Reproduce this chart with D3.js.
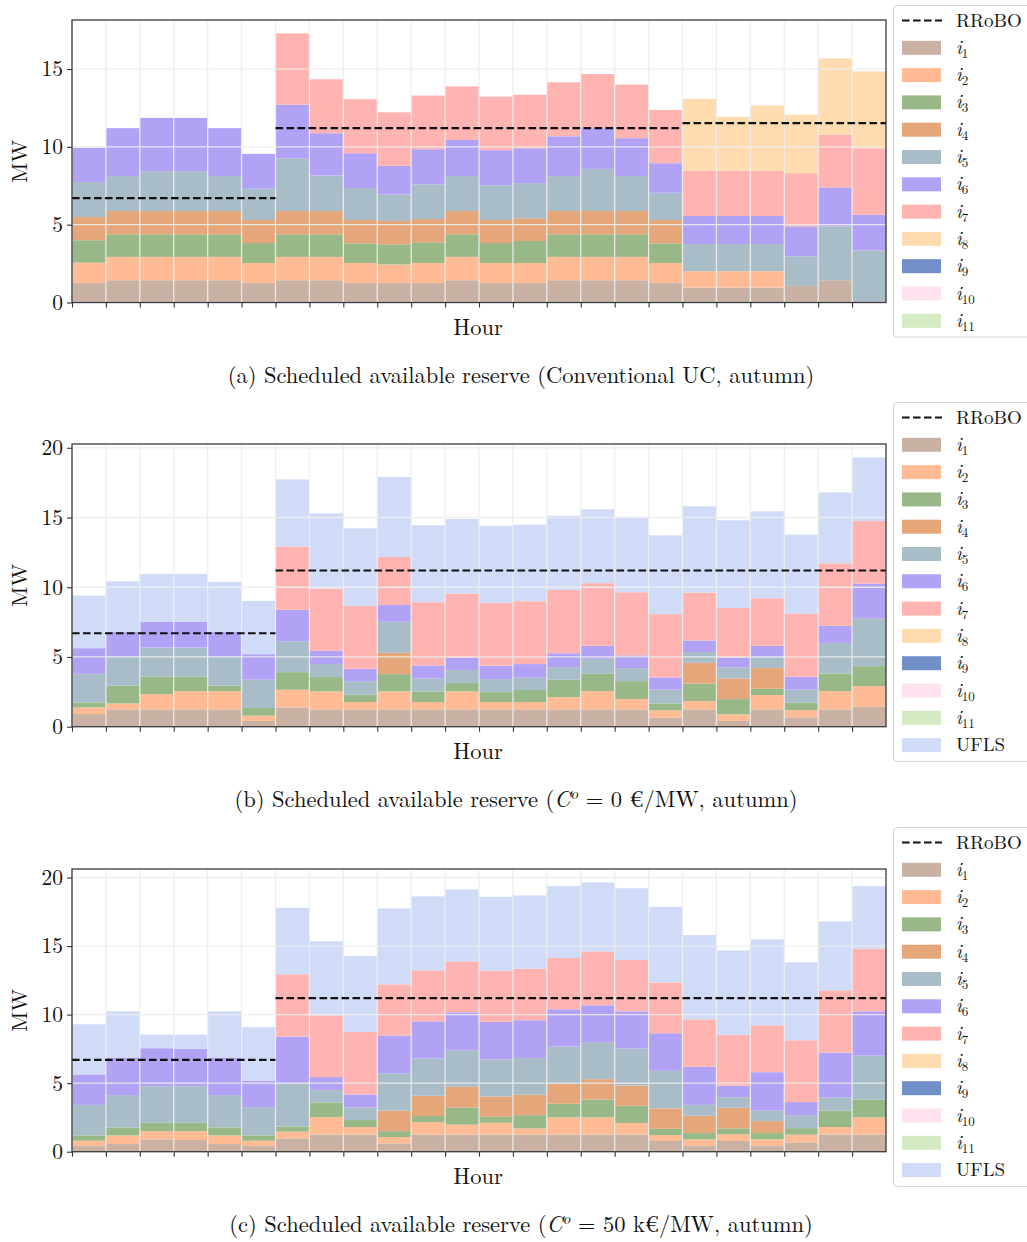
<!DOCTYPE html>
<html>
<head>
<meta charset="utf-8">
<script src="https://cdn.jsdelivr.net/npm/d3@7"></script>
<style>
  html, body { margin: 0; padding: 0; background: #fff; }
  svg { display: block; }
  text { font-family: "Latin Modern Roman", "CMU Serif", "Liberation Serif", serif; fill: #111; }
</style>
</head>
<body>
<script>
// Hours of the day (one bar per hour)
const hours = [0,1,2,3,4,5,6,7,8,9,10,11,12,13,14,15,16,17,18,19,20,21,22,23];

// Panel (a): conventional UC, autumn — reserve per unit (MW)
const convI1 = [1.26,1.43,1.43,1.43,1.43,1.26,1.43,1.43,1.26,1.26,1.26,1.43,1.26,1.26,1.43,1.43,1.43,1.26,0.96,0.96,0.96,1.07,1.43,0];
const convI2 = [1.30,1.50,1.50,1.50,1.50,1.28,1.50,1.50,1.28,1.18,1.28,1.50,1.28,1.28,1.50,1.50,1.50,1.28,1.05,1.05,1.05,0,0,0];
const convI3 = [1.44,1.45,1.45,1.45,1.45,1.28,1.45,1.45,1.26,1.30,1.33,1.45,1.28,1.41,1.45,1.45,1.45,1.26,0,0,0,0,0,0];
const convI4 = [1.49,1.50,1.50,1.50,1.50,1.48,1.50,1.50,1.50,1.50,1.49,1.50,1.48,1.46,1.50,1.50,1.50,1.50,0,0,0,0,0,0];
const convI5 = [2.25,2.24,2.56,2.56,2.24,2.01,3.39,2.28,2.05,1.70,2.23,2.24,2.24,2.26,2.24,2.71,2.24,1.75,1.75,1.75,1.75,1.90,3.46,3.35];
const convI6 = [2.20,3.08,3.42,3.42,3.08,2.24,3.44,2.72,2.24,1.84,2.26,2.33,2.25,2.24,2.56,2.61,2.44,1.90,1.80,1.80,1.80,1.92,2.50,2.29];
const convI7 = [0,0,0,0,0,0,4.58,3.46,3.47,3.44,3.44,3.44,3.44,3.44,3.47,3.48,3.44,3.42,2.92,2.92,2.92,3.42,3.40,4.27];
const convI8 = [0,0,0,0,0,0,0,0,0,0,0,0,0,0,0,0,0,0,4.60,3.46,4.17,3.76,4.89,4.94];
const convRRoBO = [6.7,6.7,6.7,6.7,6.7,6.7,11.2,11.2,11.2,11.2,11.2,11.2,11.2,11.2,11.2,11.2,11.2,11.2,11.52,11.52,11.52,11.52,11.52,11.52];

// Panel (b): C^o = 0 €/MW
const zeroI1 = [0.91,1.24,1.24,1.24,1.24,0.41,1.38,1.24,1.24,1.24,1.24,1.24,1.24,1.24,1.24,1.24,1.24,0.64,1.24,0.41,1.24,0.67,1.24,1.43];
const zeroI2 = [0.47,0.43,1.10,1.31,1.31,0.38,1.27,1.29,0.53,1.29,0.53,1.29,0.53,0.53,0.88,1.31,0.74,0.53,0.60,0.47,1.03,0.52,1.31,1.48];
const zeroI3 = [0.36,1.27,1.26,1.05,0.39,0.55,1.26,1.03,0.52,1.24,0.76,0.60,0.71,0.86,1.25,1.24,1.29,0.50,1.26,1.10,0.45,0.55,1.27,1.43];
const zeroI4 = [0,0,0,0,0,0,0,0,0,1.53,0,0,0,0,0,0,0,0,1.48,1.48,1.48,0,0,0];
const zeroI5 = [2.05,2.07,2.08,2.08,2.07,2.03,2.22,0.93,0.98,2.22,0.93,0.93,0.93,0.88,0.90,1.08,0.93,0.98,0.77,0.79,0.76,0.91,2.19,3.44];
const zeroI6 = [1.84,1.79,1.84,1.84,1.79,1.83,2.25,0.95,0.88,1.21,0.93,0.88,0.96,0.98,1.00,0.93,0.91,0.88,0.83,0.71,0.84,0.93,1.22,2.48];
const zeroI7 = [0,0,0,0,0,0,4.53,4.46,4.51,3.44,4.54,4.61,4.51,4.51,4.54,4.49,4.53,4.54,3.44,3.56,3.41,4.53,4.49,4.49];
const zeroUFLS = [3.77,3.63,3.43,3.43,3.58,3.82,4.82,5.40,5.56,5.73,5.51,5.34,5.51,5.49,5.32,5.29,5.40,5.65,6.18,6.28,6.23,5.66,5.08,4.56];
const zeroRRoBO = [6.7,6.7,6.7,6.7,6.7,6.7,11.2,11.2,11.2,11.2,11.2,11.2,11.2,11.2,11.2,11.2,11.2,11.2,11.2,11.2,11.2,11.2,11.2,11.2];

// Panel (c): C^o = 50 k€/MW
const highI1 = [0.41,0.56,0.90,0.85,0.56,0.41,0.97,1.26,1.26,0.61,1.26,1.26,1.26,1.26,1.26,1.26,1.26,0.78,0.41,0.78,0.41,0.68,1.26,1.26];
const highI2 = [0.39,0.63,0.60,0.65,0.63,0.39,0.49,1.26,0.54,0.46,0.90,0.71,0.85,0.44,1.24,1.24,0.83,0.43,0.49,0.48,0.49,0.56,0.54,1.24];
const highI3 = [0.39,0.58,0.61,0.61,0.58,0.39,0.38,1.07,0.51,0.43,0.44,1.26,0.44,0.97,1.00,1.31,1.26,0.46,0.46,0.44,0.46,0.48,1.19,1.31];
const highI4 = [0,0,0,0,0,0,0,0,0,1.49,1.48,1.50,1.48,1.48,1.45,1.48,1.48,1.49,1.26,1.50,0.87,0,0,0];
const highI5 = [2.23,2.36,2.67,2.67,2.36,2.06,3.14,0.92,0.92,2.74,2.72,2.67,2.69,2.69,2.72,2.70,2.69,2.74,0.80,0.78,0.76,0.95,0.97,3.20];
const highI6 = [2.21,2.74,2.77,2.72,2.74,1.94,3.42,0.93,0.94,2.74,2.71,2.77,2.75,2.75,2.72,2.69,2.72,2.74,2.77,0.83,2.81,0.95,3.27,3.23];
const highI7 = [0,0,0,0,0,0,4.54,4.51,4.57,3.74,3.72,3.71,3.73,3.76,3.74,3.93,3.74,3.71,3.47,3.71,3.42,4.51,4.54,4.57];
const highUFLS = [3.67,3.37,0.99,1.04,3.37,3.89,4.85,5.39,5.53,5.53,5.39,5.25,5.39,5.34,5.24,5.03,5.24,5.51,6.14,6.16,6.27,5.68,5.03,4.56];
const highRRoBO = [6.7,6.7,6.7,6.7,6.7,6.7,11.2,11.2,11.2,11.2,11.2,11.2,11.2,11.2,11.2,11.2,11.2,11.2,11.2,11.2,11.2,11.2,11.2,11.2];

// Tick values of the MW axes
const ticksA = [0, 5, 10, 15];
const ticksBC = [0, 5, 10, 15, 20];

// Legend entries
const unitKeys = ["i1","i2","i3","i4","i5","i6","i7","i8","i9","i10","i11"];
const colors = {
  i1: "#c9b2a4", i2: "#ffbb94", i3: "#98b987", i4: "#e5a679", i5: "#a9bdc9", i6: "#b1a2f6",
  i7: "#ffb4b1", i8: "#ffdcb0", i9: "#7190c9", i10: "#ffe1f0", i11: "#d4eac2", UFLS: "#cfdbf7"
};

const W = 1027, H = 1242;
const svg = d3.select("body").append("svg").attr("width", W).attr("height", H);

const x = d3.scaleLinear().domain([0, 24]).range([72, 886]);

function seriesTable(named) {
  const keys = Object.keys(named);
  return { keys, rows: hours.map((h, i) => { const r = { hour: h }; keys.forEach(k => r[k] = named[k][i]); return r; }) };
}

function drawPanel(cfg) {
  const g = svg.append("g");
  const y = d3.scaleLinear().domain([0, cfg.ymax]).range([cfg.bottom, cfg.top]);
  const { keys, rows } = seriesTable(cfg.series);
  const stacked = d3.stack().keys(keys)(rows);

  // stacked hourly bars
  stacked.forEach(layer => {
    g.append("g").selectAll("rect").data(layer).join("rect")
      .attr("x", d => x(d.data.hour))
      .attr("width", d => x(d.data.hour + 1) - x(d.data.hour))
      .attr("y", d => y(d[1]))
      .attr("height", d => Math.max(0, y(d[0]) - y(d[1])))
      .attr("fill", colors[layer.key]);
  });

  // light grid drawn over the bars
  const grid = g.append("g").attr("stroke", "#eeeeee").attr("stroke-width", 1.3).attr("opacity", 0.9);
  hours.forEach(h => grid.append("line").attr("x1", x(h)).attr("x2", x(h)).attr("y1", cfg.top).attr("y2", cfg.bottom));
  cfg.ticks.forEach(t => grid.append("line").attr("x1", 72).attr("x2", 886).attr("y1", y(t)).attr("y2", y(t)));

  // RRoBO requirement: one dashed segment per constant block
  let start = 0;
  for (let i = 1; i <= hours.length; i++) {
    if (i === hours.length || cfg.rrobo[i] !== cfg.rrobo[start]) {
      g.append("line")
        .attr("x1", x(hours[start])).attr("x2", x(hours[i - 1] + 1))
        .attr("y1", y(cfg.rrobo[start])).attr("y2", y(cfg.rrobo[start]))
        .attr("stroke", "#111").attr("stroke-width", 2.2).attr("stroke-dasharray", "7.6,3.4");
      start = i;
    }
  }

  // axes
  const xAxis = g.append("g").attr("transform", `translate(0,${cfg.bottom})`)
    .call(d3.axisBottom(x).tickValues(hours).tickFormat("").tickSize(5).tickSizeOuter(0));
  xAxis.select(".domain").remove();
  xAxis.selectAll("line").attr("stroke", "#333").attr("stroke-width", 1.1);

  const yAxis = g.append("g").attr("transform", "translate(72,0)")
    .call(d3.axisLeft(y).tickValues(cfg.ticks).tickSize(5).tickSizeOuter(0).tickPadding(4));
  yAxis.select(".domain").remove();
  yAxis.selectAll("line").attr("stroke", "#333").attr("stroke-width", 1.1);
  yAxis.selectAll("text").attr("font-size", 21.5).attr("font-family", null).attr("fill", "#111");

  g.append("rect").attr("x", 72).attr("y", cfg.top).attr("width", 814).attr("height", cfg.bottom - cfg.top)
    .attr("fill", "none").attr("stroke", "#3a3a3a").attr("stroke-width", 1.3);

  g.append("text").attr("transform", `translate(27,${(cfg.top + cfg.bottom) / 2}) rotate(-90)`)
    .attr("text-anchor", "middle").attr("font-size", 22).text("MW");
  g.append("text").attr("x", 478).attr("y", cfg.bottom + 32)
    .attr("text-anchor", "middle").attr("font-size", 22.5).text("Hour");

  // caption
  const cap = g.append("text").attr("x", cfg.captionX).attr("y", cfg.bottom + 80.5)
    .attr("text-anchor", "middle").attr("font-size", 22.5);
  cfg.caption(cap);

  // legend
  const items = [{ key: "RRoBO", dash: true }].concat(cfg.legendKeys.map(k => ({ key: k })));
  const step = 27.3;
  const lg = g.append("g");
  lg.append("rect").attr("x", 893.5).attr("y", cfg.legendTop).attr("rx", 4)
    .attr("width", 160).attr("height", items.length * step + 4)
    .attr("fill", "#fff").attr("stroke", "#d4d4d4").attr("stroke-width", 1);
  items.forEach((it, i) => {
    const cy = cfg.legendTop + 15 + i * step;
    if (it.dash) {
      lg.append("line").attr("x1", 902).attr("x2", 942).attr("y1", cy).attr("y2", cy)
        .attr("stroke", "#111").attr("stroke-width", 2.2).attr("stroke-dasharray", "7.6,3.4");
    } else {
      lg.append("rect").attr("x", 902).attr("y", cy - 7).attr("width", 39).attr("height", 14)
        .attr("fill", colors[it.key]);
    }
    const t = lg.append("text").attr("x", 956).attr("y", cy + 6).attr("font-size", 19);
    if (it.key.startsWith("i")) {
      t.append("tspan").attr("font-style", "italic").text("i");
      t.append("tspan").attr("font-size", 13).attr("dy", 4).text(it.key.slice(1));
    } else {
      t.text(it.key);
    }
  });
}

function mathCaption(prefix, value) {
  return sel => {
    sel.append("tspan").text(prefix + " Scheduled available reserve (");
    sel.append("tspan").attr("font-style", "italic").text("C");
    sel.append("tspan").attr("font-style", "italic").attr("font-size", 15.5).attr("dy", -8.5).text("o");
    sel.append("tspan").attr("dy", 8.5).text(" = " + value + "/MW, autumn)");
  };
}

drawPanel({
  top: 20, bottom: 302.5, ymax: 18.15, ticks: ticksA,
  series: { i1: convI1, i2: convI2, i3: convI3, i4: convI4, i5: convI5, i6: convI6, i7: convI7, i8: convI8 },
  rrobo: convRRoBO, legendTop: 5.5, legendKeys: unitKeys, captionX: 521,
  caption: sel => sel.text("(a) Scheduled available reserve (Conventional UC, autumn)")
});

drawPanel({
  top: 444, bottom: 726.7, ymax: 20.27, ticks: ticksBC,
  series: { i1: zeroI1, i2: zeroI2, i3: zeroI3, i4: zeroI4, i5: zeroI5, i6: zeroI6, i7: zeroI7, UFLS: zeroUFLS },
  rrobo: zeroRRoBO, legendTop: 402.5, legendKeys: unitKeys.concat(["UFLS"]), captionX: 516,
  caption: mathCaption("(b)", "0 €")
});

drawPanel({
  top: 869, bottom: 1151.7, ymax: 20.62, ticks: ticksBC,
  series: { i1: highI1, i2: highI2, i3: highI3, i4: highI4, i5: highI5, i6: highI6, i7: highI7, UFLS: highUFLS },
  rrobo: highRRoBO, legendTop: 827.5, legendKeys: unitKeys.concat(["UFLS"]), captionX: 521,
  caption: mathCaption("(c)", "50 k€")
});
</script>
</body>
</html>
